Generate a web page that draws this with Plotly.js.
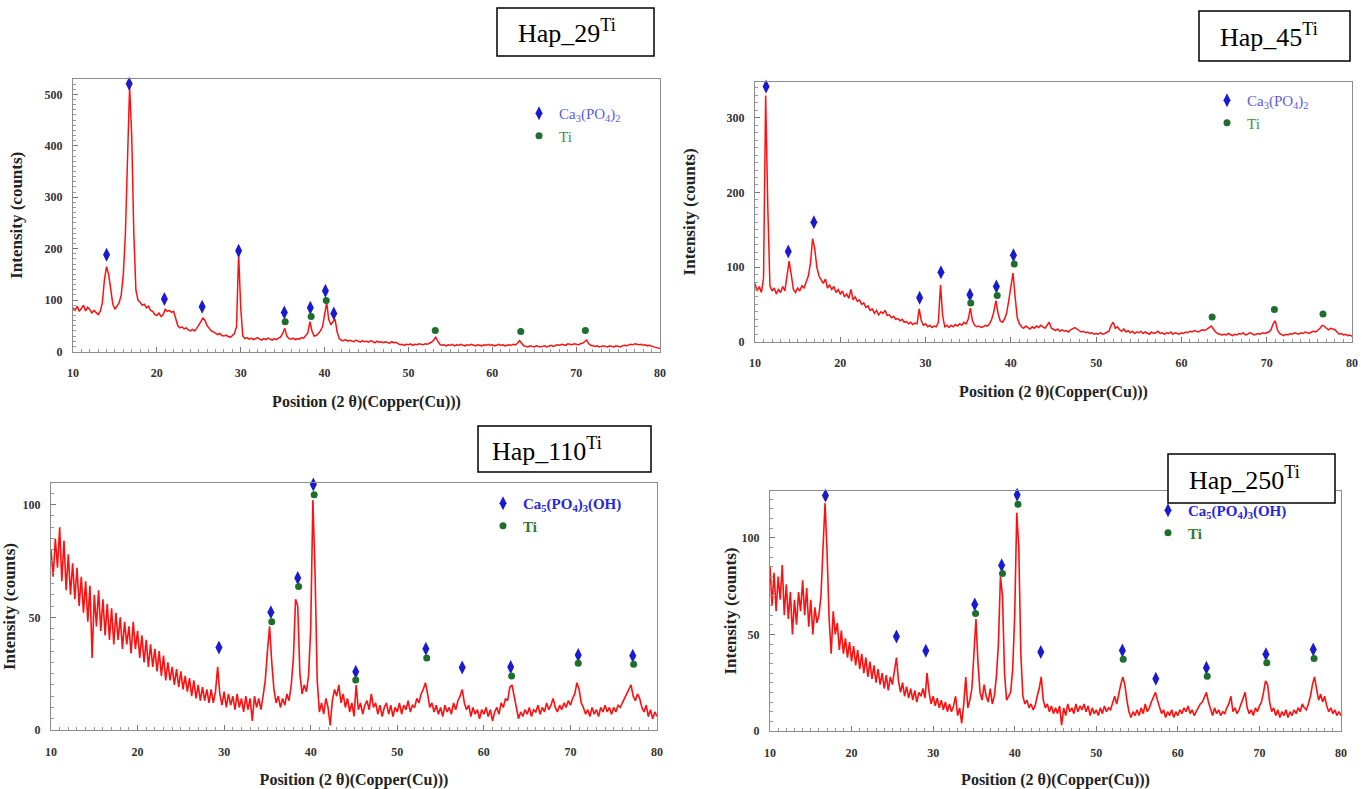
<!DOCTYPE html>
<html><head><meta charset="utf-8">
<script src="https://cdn.plot.ly/plotly-3.0.1.min.js"></script>
<style>html,body{margin:0;padding:0;background:#fff;}#chart{width:1369px;height:789px;}</style>
</head><body><div id="chart"></div>
<script>
// ---- data ----
const angleStart = 10;     // first 2θ of every scan
const angleStep = 0.25;    // 2θ step of the scans
const sampleNames = ['Hap_29', 'Hap_45', 'Hap_110', 'Hap_250'];
const phaseTop = ['Ca<sub>3</sub>(PO<sub>4</sub>)<sub>2</sub>', 'Ti'];
const phaseBottom = ['Ca<sub>5</sub>(PO<sub>4</sub>)<sub>3</sub>(OH)', 'Ti'];
const xTitle = 'Position (2 θ)(Copper(Cu)))';
const yTitle = 'Intensity (counts)';

const hap29 = [
 85,80,88,78,84,90,79,86,82,75,80,76,72,78,95,140,165,150,115,92,
 82,88,95,110,150,230,400,515,420,230,120,100,96,90,92,85,88,80,78,72,
 70,75,68,72,82,78,80,76,78,62,50,46,48,44,46,42,40,43,40,45,
 52,58,65,60,50,45,40,38,35,33,35,31,30,32,29,28,31,35,48,190,
 85,30,25,27,24,26,23,25,27,24,22,25,23,26,24,22,25,23,26,28,
 35,45,30,25,24,26,23,25,24,27,26,30,36,58,40,30,31,35,40,48,
 70,95,62,52,58,63,38,25,22,21,23,20,22,21,19,22,20,18,21,19,
 20,18,21,19,17,20,18,19,17,19,18,16,19,17,18,16,13,14,12,14,
 13,15,12,14,13,15,14,13,15,14,16,18,22,28,20,14,12,13,11,13,
 12,14,11,13,12,14,12,11,13,12,14,12,11,13,12,11,13,12,14,12,
 13,11,12,14,12,13,11,12,13,12,14,13,16,21,15,11,10,9,11,10,
 9,11,10,9,10,11,9,10,12,10,11,13,12,14,13,12,15,14,13,15,
 14,13,15,16,19,22,15,12,11,10,11,9,10,11,10,9,11,10,9,11,
 10,9,11,12,11,13,14,13,15,14,13,14,12,13,11,12,10,9,8,7,
 6];
const hap45 = [
 78,68,74,66,85,330,180,75,68,72,64,70,66,74,68,85,108,90,70,66,
 72,68,75,72,80,88,105,138,125,100,88,82,78,84,72,76,70,74,66,70,
 64,68,60,64,58,70,56,60,54,56,50,52,46,48,42,44,38,42,36,40,
 38,42,35,36,32,34,30,31,28,30,26,27,24,26,23,25,24,44,28,22,
 24,20,22,19,21,20,26,76,35,20,22,19,22,20,23,21,24,22,26,24,
 30,45,28,22,20,21,19,20,22,21,24,30,40,55,38,28,26,30,38,55,
 75,92,60,32,24,20,18,21,19,17,20,18,21,19,22,20,18,22,26,18,
 17,15,17,14,16,14,15,13,16,18,19,17,15,13,14,12,13,11,12,10,
 11,10,12,10,11,12,14,22,26,18,20,16,14,17,13,15,12,14,11,13,
 12,14,11,13,12,10,13,11,12,14,11,12,10,12,11,13,10,12,11,10,
 12,11,13,12,14,13,15,14,13,15,16,15,17,19,21,17,13,11,10,9,
 10,9,11,10,8,10,9,11,10,12,9,10,12,11,9,10,11,10,12,11,
 12,13,16,24,28,16,11,9,8,10,9,11,10,12,11,10,12,11,13,12,
 11,13,14,13,15,18,22,21,18,16,18,17,16,13,10,11,9,10,8,9,
 7];
const hap110 = [
 80,68,85,72,90,66,84,62,78,60,74,58,72,55,68,52,66,48,64,32,
 60,46,62,44,58,42,56,40,54,38,52,40,50,36,48,38,46,34,48,36,
 44,32,42,30,40,28,38,28,36,26,35,24,33,22,30,22,28,20,27,19,
 26,18,24,17,23,15,22,14,20,13,19,13,18,12,18,12,17,28,16,11,
 17,10,16,11,15,9,16,10,14,8,15,9,14,4,15,10,14,9,15,22,
 35,46,30,18,12,15,10,14,11,16,13,20,32,58,55,25,16,20,17,24,
 45,102,70,22,8,12,7,14,10,2,13,18,15,20,12,16,10,14,8,12,
 6,20,9,12,7,11,13,9,16,10,12,7,11,6,10,12,7,11,6,10,
 8,12,7,11,9,13,8,11,10,14,12,16,18,21,16,10,12,8,11,7,
 10,6,11,8,10,7,12,9,13,15,18,12,9,11,6,10,7,9,5,9,
 7,10,6,9,4,8,10,7,12,10,14,13,19,20,15,10,5,8,6,9,
 7,10,6,9,8,11,7,10,8,12,9,11,14,10,8,11,9,12,10,13,
 11,14,16,21,18,12,10,7,9,6,10,7,9,6,10,8,11,8,10,7,
 10,8,11,10,12,14,16,18,20,15,13,16,14,10,8,11,6,9,5,8,
 6];
const hap250 = [
 85,65,82,62,80,68,86,60,76,58,72,50,68,55,72,62,78,60,74,54,
 68,50,64,56,60,70,95,118,92,58,40,62,50,56,42,52,40,48,38,46,
 36,44,34,42,32,40,30,38,28,36,27,34,25,32,24,30,22,29,21,28,
 24,30,38,26,20,25,18,23,17,22,16,21,15,20,18,22,17,30,20,14,
 18,13,17,12,16,11,15,10,14,10,13,18,8,12,4,14,28,12,16,22,
 40,58,35,20,16,24,18,15,22,14,18,28,45,80,70,30,16,18,20,32,
 60,113,95,40,18,14,16,12,14,11,13,18,22,28,16,12,14,10,13,9,
 12,9,13,3,12,8,14,10,12,9,14,10,13,11,14,10,13,8,12,9,
 11,8,12,9,13,10,12,11,15,18,14,20,24,28,24,16,10,7,10,8,
 11,8,12,9,14,10,12,15,18,20,16,12,9,11,7,10,8,11,7,10,
 8,11,9,12,10,13,9,11,8,10,12,14,15,18,20,15,11,8,12,9,
 11,8,10,9,12,14,18,10,12,9,11,14,16,20,12,9,11,8,12,10,
 13,15,20,26,24,15,10,12,8,11,7,10,8,11,7,10,8,11,9,12,
 10,14,12,11,14,18,24,28,22,16,19,15,18,13,10,12,9,11,8,10,
 8];

// phase-identification marks (2θ, marker height)
const hap29CaX = [14.0, 16.7, 20.9, 25.4, 29.75, 35.2, 38.3, 40.1, 41.1];
const hap29CaY = [188, 521, 102, 87, 196, 76, 85, 118, 74];
const hap29TiX = [35.3, 38.4, 40.2, 53.2, 63.4, 71.1];
const hap29TiY = [58, 68, 99, 41, 39, 41];
const hap45CaX = [11.3, 13.9, 16.9, 29.3, 31.8, 35.2, 38.3, 40.3];
const hap45CaY = [342, 121, 160, 59, 93, 63, 74, 116];
const hap45TiX = [35.3, 38.4, 40.4, 63.6, 70.9, 76.6];
const hap45TiY = [52, 62, 104, 33, 43, 37];
const hap110CaX = [29.4, 35.4, 38.5, 40.3, 45.2, 53.3, 57.5, 63.1, 70.9, 77.2];
const hap110CaY = [36.6, 52.3, 67.4, 108.9, 25.9, 36, 27.7, 27.9, 33.3, 33];
const hap110TiX = [35.5, 38.6, 40.4, 45.2, 53.4, 63.2, 70.9, 77.3];
const hap110TiY = [48, 63.7, 104.4, 22.2, 31.9, 24, 29.6, 29.2];
const hap250CaX = [16.8, 25.5, 29.1, 35.1, 38.4, 40.3, 43.2, 53.2, 57.3, 63.5, 70.8, 76.6];
const hap250CaY = [122, 49, 41.6, 65.5, 85.9, 122.4, 40.9, 41.7, 27, 32.8, 39.7, 42.2];
const hap250TiX = [35.2, 38.5, 40.4, 53.3, 63.6, 70.9, 76.7];
const hap250TiY = [60.9, 81.6, 117.4, 37.2, 28.4, 35.3, 37.6];

const xRange = [10, 80];
const yRanges = [[0, 530], [0, 348], [0, 109.6], [0, 124.3]];
const yDticks = [100, 100, 50, 50];
const yMinor = [10, 10, 5, 5];

// ---- layout helpers (pixel frame of each panel) ----
const W = 1369, H = 789;
const frames = [
  {l: 73, r: 660, t: 79, b: 351.5},
  {l: 755, r: 1352, t: 82, b: 341.7},
  {l: 51, r: 657, t: 483, b: 730},
  {l: 770, r: 1341, t: 491, b: 731}
];
const titleBoxes = [
  {l: 497, r: 654, t: 8, b: 56, tx: 516},
  {l: 1199, r: 1350, t: 11, b: 61, tx: 1218},
  {l: 478, r: 651, t: 426, b: 472, tx: 490},
  {l: 1168, r: 1335, t: 454, b: 503, tx: 1187}
];
const legendPos = [
  {x: 519, y: 97}, {x: 1207, y: 84}, {x: 483, y: 487}, {x: 1148, y: 494}
];
const yTitleStandoff = [17, 26, 2, 0];

const serif = 'Liberation Serif, Times New Roman, serif';
const scans = [hap29, hap45, hap110, hap250];
const caX = [hap29CaX, hap45CaX, hap110CaX, hap250CaX];
const caY = [hap29CaY, hap45CaY, hap110CaY, hap250CaY];
const tiX = [hap29TiX, hap45TiX, hap110TiX, hap250TiX];
const tiY = [hap29TiY, hap45TiY, hap110TiY, hap250TiY];

const traces = [];
const layout = {
  width: W, height: H, margin: {l: 0, r: 0, t: 0, b: 0},
  paper_bgcolor: '#fff', plot_bgcolor: '#fff', showlegend: true,
  font: {family: serif}, annotations: [], shapes: []
};

for (let i = 0; i < 4; i++) {
  const sfx = i === 0 ? '' : String(i + 1);
  const xa = 'x' + sfx, ya = 'y' + sfx;
  const lg = 'legend' + sfx;
  const bottom = i >= 2;
  const labels = bottom ? phaseBottom : phaseTop;
  traces.push({
    type: 'scatter', mode: 'lines', x0: angleStart, dx: angleStep, y: scans[i],
    xaxis: xa, yaxis: ya, line: {color: '#ff1010', width: bottom ? 1.6 : 1.5}, showlegend: false,
    hoverinfo: 'x+y'
  });
  traces.push({
    type: 'scatter', mode: 'markers', x: caX[i], y: caY[i], xaxis: xa, yaxis: ya,
    legend: lg, legendgroup: 'ca' + i, cliponaxis: false,
    name: '<span style="color:' + (bottom ? '#2626dc' : '#5c5ce6') + '">' + labels[0] + '</span>',
    marker: {symbol: 'diamond-tall', size: 10, color: '#1a1ad0'}
  });
  traces.push({
    type: 'scatter', mode: 'markers', x: tiX[i], y: tiY[i], xaxis: xa, yaxis: ya,
    legend: lg, legendgroup: 'ti' + i, cliponaxis: false,
    name: '<span style="color:' + (bottom ? '#2a7a2a' : '#3f8f3f') + '">' + labels[1] + '</span>',
    marker: {symbol: 'circle', size: 7, color: '#1e6e2c'}
  });
  const f = frames[i];
  layout['xaxis' + sfx] = {
    domain: [f.l / W, f.r / W], anchor: ya, range: xRange, tick0: 10, dtick: 10,
    ticks: 'inside', ticklen: 5, tickcolor: '#777', tickwidth: 1,
    minor: {dtick: 1, ticks: 'inside', ticklen: 3, tickcolor: '#999'},
    showline: true, linecolor: '#8c8c8c', linewidth: 1.2, mirror: true,
    showgrid: false, zeroline: false, ticklabelstandoff: 10,
    tickfont: {family: serif, size: 12, color: '#333', weight: 'bold'},
    title: {text: xTitle, standoff: 16, font: {family: serif, size: 16, color: '#222', weight: 'bold'}}
  };
  layout['yaxis' + sfx] = {
    domain: [1 - f.b / H, 1 - f.t / H], anchor: xa, range: yRanges[i], tick0: 0, dtick: yDticks[i],
    ticks: 'inside', ticklen: 5, tickcolor: '#777', tickwidth: 1,
    minor: {dtick: yMinor[i], ticks: 'inside', ticklen: 3, tickcolor: '#999'},
    showline: true, linecolor: '#8c8c8c', linewidth: 1.2, mirror: true,
    showgrid: false, zeroline: false, ticklabelstandoff: 7,
    tickfont: {family: serif, size: 12, color: '#333', weight: 'bold'},
    title: {text: yTitle, standoff: yTitleStandoff[i], font: {family: serif, size: 17, color: '#222', weight: 'bold'}}
  };
  const lp = legendPos[i];
  layout[lg] = {
    x: lp.x / W, y: 1 - lp.y / H, xanchor: 'left', yanchor: 'top',
    bgcolor: 'rgba(255,255,255,0)', borderwidth: 0, traceorder: 'grouped', tracegroupgap: 0,
    font: {family: serif, size: 15, weight: bottom ? 'bold' : 'normal'}
  };
  const tb = titleBoxes[i];
  layout.shapes.push({
    type: 'rect', xref: 'paper', yref: 'paper',
    x0: tb.l / W, x1: tb.r / W, y0: 1 - tb.b / H, y1: 1 - tb.t / H,
    line: {color: '#000', width: 1.5}, fillcolor: '#fff', layer: 'above'
  });
  layout.annotations.push({
    xref: 'paper', yref: 'paper', x: tb.tx / W, y: 1 - (tb.t + tb.b) / 2 / H,
    xanchor: 'left', yanchor: 'middle', showarrow: false,
    text: sampleNames[i] + '<sup>Ti</sup>',
    font: {family: serif, size: 26, color: '#000'}
  });
}

Plotly.newPlot('chart', traces, layout, {displayModeBar: false, staticPlot: true});
</script>
</body></html>
